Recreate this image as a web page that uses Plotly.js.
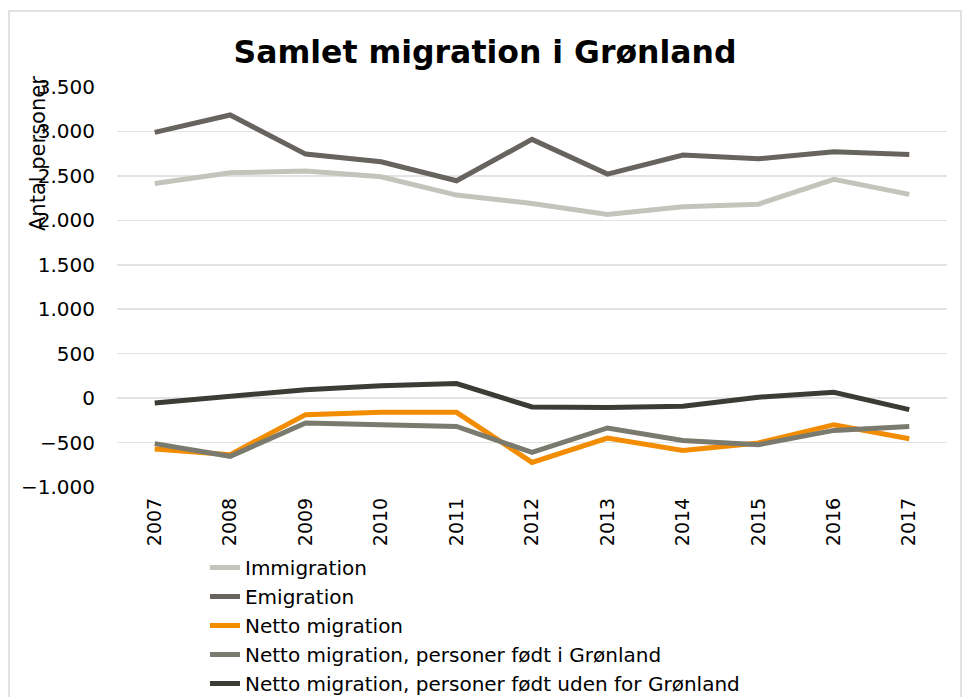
<!DOCTYPE html>
<html>
<head>
<meta charset="utf-8">
<script src="https://cdn.plot.ly/plotly-3.0.1.min.js"></script>
<style>html,body{margin:0;padding:0;background:#fff;}#chart{width:962px;height:697px;}</style>
</head>
<body>
<div id="chart"></div>
<script>
const years = ["2007","2008","2009","2010","2011","2012","2013","2014","2015","2016","2017"];
const immigration = [2415, 2535, 2554, 2490, 2284, 2190, 2066, 2152, 2182, 2461, 2292];
const emigration = [2990, 3185, 2745, 2659, 2445, 2911, 2520, 2734, 2693, 2772, 2742];
const nettoMigration = [-572, -636, -186, -160, -160, -723, -449, -588, -505, -299, -457];
const nettoFoedtI = [-512, -655, -279, -299, -318, -611, -336, -476, -524, -363, -318];
const nettoFoedtUden = [-55, 20, 95, 140, 163, -100, -105, -92, 10, 65, -130];

const seriesNames = ["Immigration","Emigration","Netto migration","Netto migration, personer født i Grønland","Netto migration, personer født uden for Grønland"];
const seriesValues = [immigration, emigration, nettoMigration, nettoFoedtI, nettoFoedtUden];
const seriesColors = ["#c4c4bc","#67635e","#f28c00","#7a7a6e","#3d3b36"];

const traces = seriesValues.map((v,i)=>({
  type:'scatter', mode:'lines', x: years, y: v, name: seriesNames[i],
  line:{color: seriesColors[i], width:5}
}));
const layout = {
  width:962, height:697,
  margin:{l:117, r:15, t:87, b:210, autoexpand:false},
  paper_bgcolor:'#fff', plot_bgcolor:'#fff',
  separators:',.',
  font:{family:'DejaVu Sans, Verdana, sans-serif', color:'#000'},
  title:{text:'<b>Samlet migration i Grønland</b>', font:{size:31.5, color:'#000'}, x:485/962, xanchor:'center', y:1-52/697, yanchor:'middle', xref:'container', yref:'container'},
  xaxis:{type:'category', range:[-0.5,10.5], tickangle:-90, tickfont:{size:19}, showgrid:false, zeroline:false, showline:false, ticks:'', ticklabelstandoff:6},
  yaxis:{range:[-1000,3500], dtick:500, tick0:0, tickformat:',d', tickfont:{size:20}, gridcolor:'#e3e3e3', gridwidth:1.5, zeroline:false, showline:false, ticks:'', ticklabelstandoff:21},
  showlegend:true,
  legend:{orientation:'v', x:0.106, xanchor:'left', y:-0.1525, yanchor:'top', font:{size:20}, bgcolor:'rgba(0,0,0,0)', tracegroupgap:0, itemwidth:30},
  annotations:[{text:'Antal personer', xref:'paper', yref:'paper', x:(38-117)/830, y:(487-154)/400, textangle:-90, showarrow:false, font:{size:21}, xanchor:'center', yanchor:'middle'}],
  shapes:[{type:'rect', xref:'paper', yref:'paper', x0:(9-117)/830, x1:(961-117)/830, y0:(487-700)/400, y1:(487-11)/400, line:{color:'#d9d9d9', width:1.5}, layer:'below'}]
};
Plotly.newPlot('chart', traces, layout, {displayModeBar:false, staticPlot:true});
</script>
</body>
</html>
